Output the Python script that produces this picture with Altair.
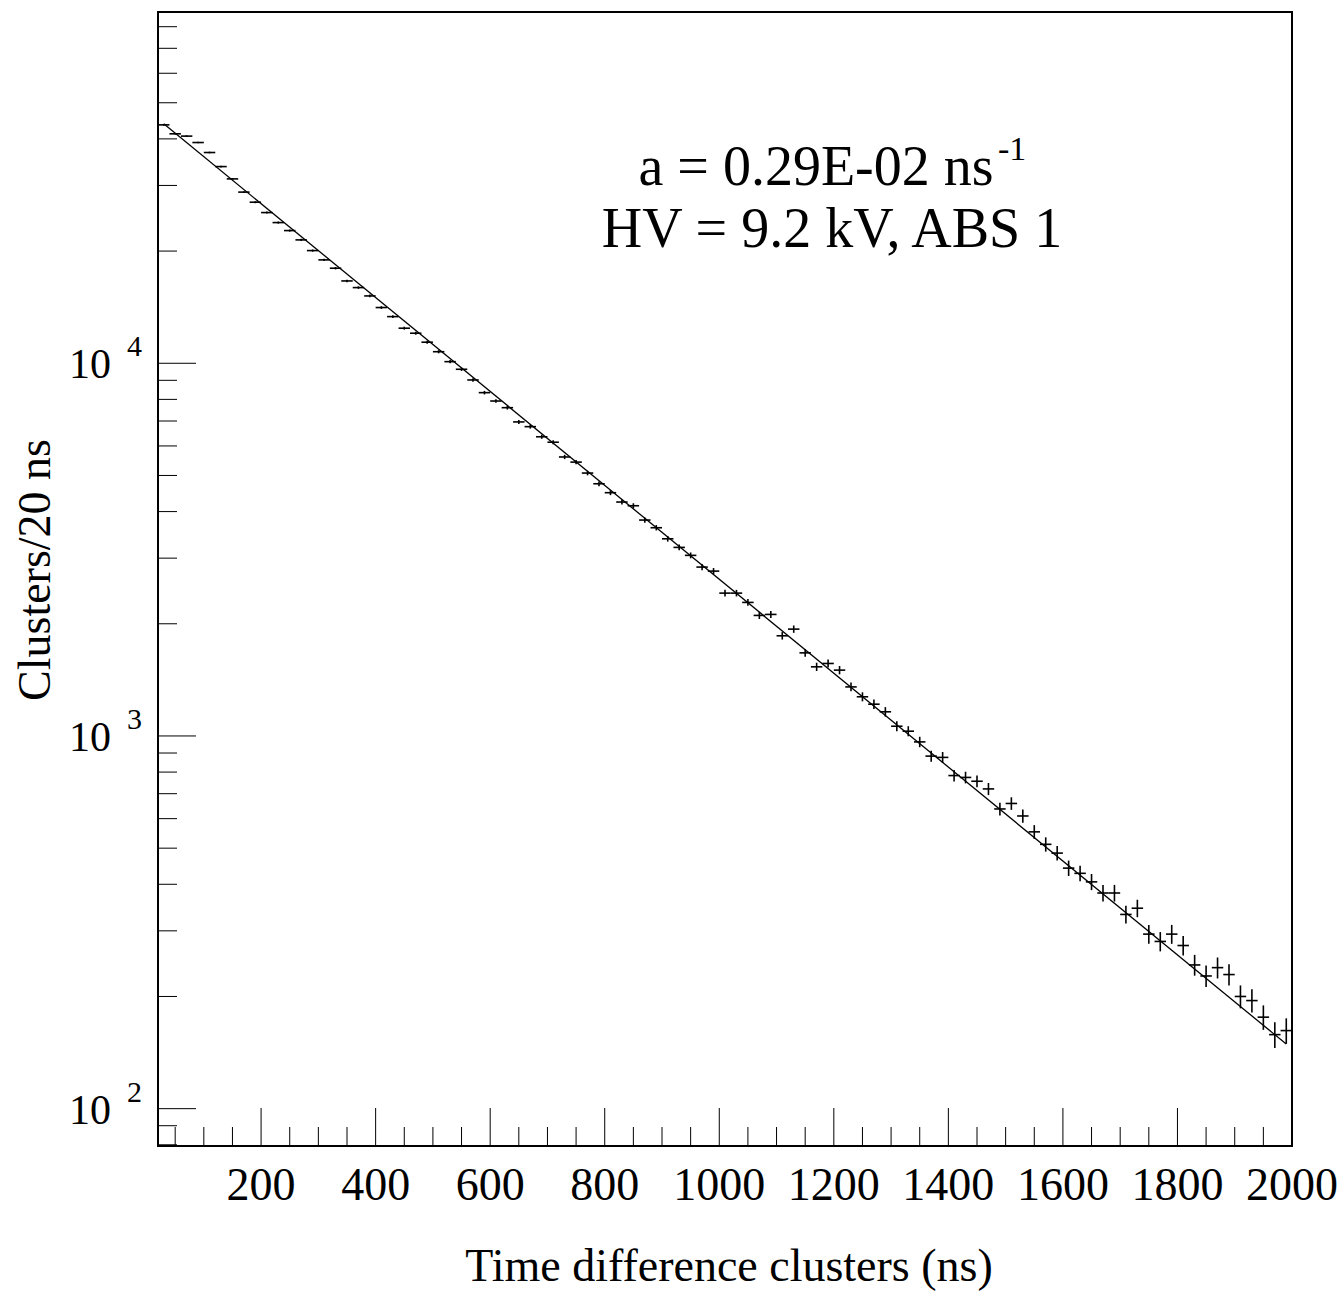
import altair as alt
import pandas as pd
import numpy as np

# ---------------- data ----------------
bin_low = 20          # ns, left edge of first bin
bin_width = 20        # ns
counts = [43620, 41270, 40690, 39110, 36770, 33710, 31240, 28790, 27050, 25370,
          23850, 22700, 21430, 20060, 18940, 17990, 16630, 15960, 15160, 14110,
          13340, 12420, 12040, 11390, 10740, 10100, 9636, 9020, 8340, 7920,
          7600, 6960, 6760, 6350, 6140, 5605, 5430, 5075, 4750, 4495,
          4243, 4147, 3796, 3620, 3381, 3206, 3052, 2839, 2769, 2417,
          2417, 2282, 2106, 2119, 1857, 1935, 1671, 1533, 1565, 1502,
          1354, 1274, 1217, 1161, 1062, 1030, 964, 883, 876, 783,
          774, 756, 721, 637, 659, 610, 553, 512, 485, 442,
          428, 406, 379, 379, 332, 345, 294, 281, 294, 274,
          243, 227, 239, 229, 200, 195, 176, 158, 162]

# exponential fit drawn from first to last bin centre
fit_t = [30, 1990]
fit_n = [43900, 149]

x_tick_labels = [200, 400, 600, 800, 1000, 1200, 1400, 1600, 1800, 2000]
x_major_ticks = [200, 400, 600, 800, 1000, 1200, 1400, 1600, 1800]
x_minor_ticks = [v for v in range(50, 2000, 50) if v % 200 != 0]
y_major_ticks = [100, 1000, 10000]
y_mantissa = ["10", "10", "10"]
y_exponents = ["2", "3", "4"]
y_minor_ticks = [80, 90] + [m * d for d in (100, 1000, 10000) for m in range(2, 10) if m * d < 87000]

annot_line1 = "a = 0.29E-02 ns"
annot_sup = "-1"
annot_line2 = "HV = 9.2 kV, ABS 1"
x_title = "Time difference clusters (ns)"
y_title = "Clusters/20 ns"

# ---------------- tables ----------------
t = [bin_low + bin_width * (i + 0.5) for i in range(len(counts))]
df = pd.DataFrame({"t": t, "n": counts})
df["t0"] = df["t"] - bin_width / 2
df["t1"] = df["t"] + bin_width / 2
df["err"] = np.sqrt(df["n"])
df["lo"] = df["n"] - df["err"]
df["hi"] = df["n"] + df["err"]
fit_df = pd.DataFrame({"t": fit_t, "n": fit_n})
xlab_df = pd.DataFrame({"v": x_tick_labels, "s": [str(v) for v in x_tick_labels]})
ylab_df = pd.DataFrame({"v": y_major_ticks, "m": y_mantissa, "e": y_exponents})

W, H = 1134, 1134
FONT = "Liberation Serif"
xs = alt.Scale(domain=[20, 2000], nice=False, zero=False)
ys = alt.Scale(type="log", domain=[79.4, 87600], nice=False)

hbar = alt.Chart(df).mark_rule(color="black", strokeWidth=1.6).encode(
    x=alt.X("t0:Q", scale=xs, axis=None),
    x2="t1:Q",
    y=alt.Y("n:Q", scale=ys, axis=None),
)
vbar = alt.Chart(df).mark_rule(color="black", strokeWidth=1.6).encode(
    x=alt.X("t:Q", scale=xs, axis=None),
    y=alt.Y("lo:Q", scale=ys, axis=None),
    y2="hi:Q",
)
fit = alt.Chart(fit_df).mark_line(color="black", strokeWidth=1.3).encode(
    x=alt.X("t:Q", scale=xs, axis=None),
    y=alt.Y("n:Q", scale=ys, axis=None),
)

def xticks(vals, length):
    return alt.Chart(pd.DataFrame({"v": vals})).mark_rule(color="black", strokeWidth=1).encode(
        x=alt.X("v:Q", scale=xs, axis=None), y=alt.value(H), y2=alt.value(H - length))

def yticks(vals, length):
    return alt.Chart(pd.DataFrame({"v": vals})).mark_rule(color="black", strokeWidth=1).encode(
        y=alt.Y("v:Q", scale=ys, axis=None), x=alt.value(0), x2=alt.value(length))

xlabels = alt.Chart(xlab_df).mark_text(font=FONT, fontSize=46, align="center",
                                       baseline="alphabetic", color="black").encode(
    x=alt.X("v:Q", scale=xs, axis=None), y=alt.value(H + 54), text="s:N")

ylabels = alt.Chart(ylab_df).mark_text(font=FONT, fontSize=42, align="right",
                                       baseline="alphabetic", dy=15, color="black").encode(
    y=alt.Y("v:Q", scale=ys, axis=None), x=alt.value(-47), text="m:N")

exps = alt.Chart(ylab_df).mark_text(font=FONT, fontSize=30, align="left", baseline="alphabetic",
                                    dy=-7, color="black").encode(
    y=alt.Y("v:Q", scale=ys, axis=None), x=alt.value(-31), text="e:N")

def label(txt, x, y, size, **kw):
    return alt.Chart(pd.DataFrame({"s": [txt]})).mark_text(
        font=FONT, fontSize=size, color="black", baseline="alphabetic", **kw).encode(
        x=alt.value(x), y=alt.value(y), text="s:N")

texts = [
    label(annot_line1, 658, 173, 56, align="center"),
    label(annot_sup, 840, 148, 34, align="left"),
    label(annot_line2, 674, 235, 56, align="center"),
    label(x_title, 571, 1269, 46, align="center"),
    label(y_title, -108, 558, 46, align="center", angle=270),
]

chart = alt.layer(
    hbar, vbar, fit,
    xticks(x_major_ticks, 38), xticks(x_minor_ticks, 19),
    yticks(y_major_ticks, 38), yticks(y_minor_ticks, 19),
    xlabels, ylabels, exps, *texts,
).properties(
    width=W, height=H,
    padding={"left": 158, "top": 12, "right": 50, "bottom": 152},
    autosize=alt.AutoSizeParams(type="none"),
    background="white",
).configure_view(stroke="black", strokeWidth=2)

chart.save("out.html", embed_options={"renderer": "svg", "actions": False})
